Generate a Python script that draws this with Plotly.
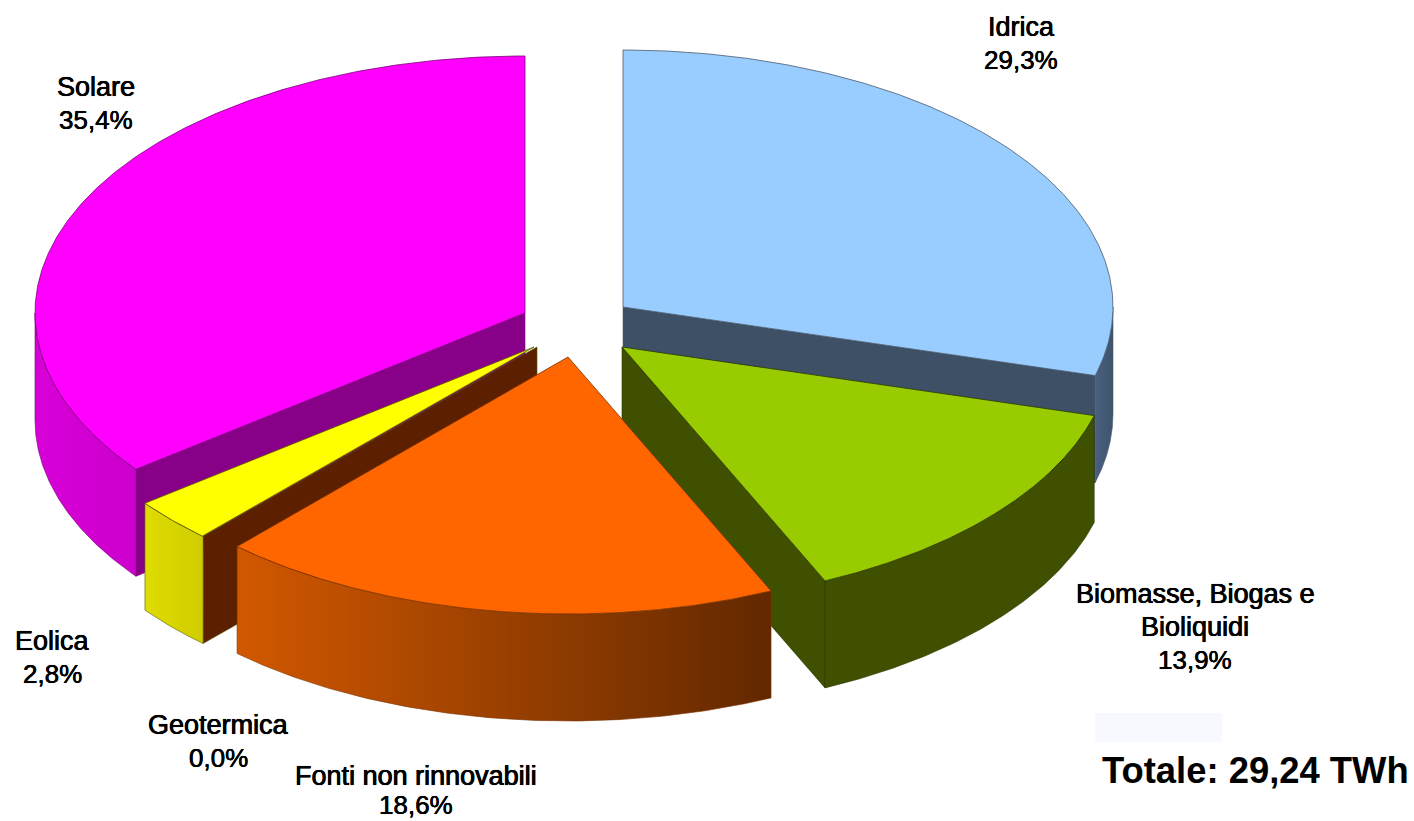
import numpy as np
import plotly.graph_objects as go

# ---- data -----------------------------------------------------------------
categories = ["Idrica", "Biomasse, Biogas e<br>Bioliquidi", "Fonti non rinnovabili",
              "Geotermica", "Eolica", "Solare"]
shares = [29.3, 13.9, 18.6, 0.0, 2.8, 35.4]
share_labels = ["29,3%", "13,9%", "18,6%", "0,0%", "2,8%", "35,4%"]
total_label = "Totale: 29,24 TWh"

# ---- geometry and styling --------------------------------------------------
RX, RY, DEPTH = 490.0, 257.0, 107.0
W, H = 1414, 821
apex = {0: (623, 307), 1: (622, 347), 2: (568, 357), 4: (534, 347), 5: (525, 313)}
wall_shift = {0: 0, 1: 0, 4: 3, 5: 0}
top_col = {0: "#99ccff", 1: "#99cc00", 2: "#ff6600", 4: "#ffff00", 5: "#ff00ff"}
edge_col = {0: "#4a5a6c", 1: "#2c3800", 2: "#7a3200", 4: "#5a5a00", 5: "#7a007a"}
side_grad = {0: ("#48607e", "#3f536c"), 1: ("#3f5000", "#3f5000"), 2: ("#d25800", "#622800"),
             4: ("#dedc00", "#d0cc00"), 5: ("#d800d8", "#cc00cc")}
wall_col = {0: "#3d5066", 1: "#3f5000", 2: None, 4: "#5c2000", 5: "#880088"}
wall_at = {0: "end", 1: "end", 4: "start", 5: "start"}
draw_order = [5, 0, 1, 4, 2]
# centre of the first text line of each label, and distance between lines
label_xy = {0: (1021, 27), 1: (1195, 594), 2: (416, 776), 3: (218, 725), 4: (52, 641), 5: (96, 87)}
line_pitch = {0: 33, 1: 33, 2: 29, 3: 33, 4: 33, 5: 33}

cum = np.concatenate([[0.0], np.cumsum(shares)]) / float(np.sum(shares)) * 2 * np.pi


def rim(i, t):
    cx, cy = apex[i]
    return cx + RX * np.sin(t), cy - RY * np.cos(t)


fig = go.Figure()


def poly(xs, ys, fill=None, line="rgba(0,0,0,0)", grad=None, width=1.0):
    kw = dict(x=xs, y=ys, mode="lines", fill="toself",
              line=dict(color=line, width=width),
              hoverinfo="skip", showlegend=False)
    if grad:
        kw["fillgradient"] = dict(type="horizontal", colorscale=[[0, grad[0]], [1, grad[1]]])
    else:
        kw["fillcolor"] = fill
    fig.add_trace(go.Scatter(**kw))


for i in draw_order:
    a0, a1 = cum[i], cum[i + 1]
    cx, cy = apex[i]
    # radial wall facing the viewer
    if i in wall_at:
        ang = a1 if wall_at[i] == "end" else a0
        ex, ey = rim(i, ang)
        wx = cx + wall_shift[i]
        poly([wx, ex, ex, wx, wx], [cy, ey, ey + DEPTH, cy + DEPTH, cy],
             fill=wall_col[i], line=edge_col[i], width=0.6)
    # curved outer wall (only the part on the lower half of the ellipse)
    lo, hi = max(a0, np.pi / 2), min(a1, 3 * np.pi / 2)
    if hi > lo:
        t = np.linspace(lo, hi, 120)
        x, y = rim(i, t)
        poly(np.r_[x, x[::-1], x[0]], np.r_[y, y[::-1] + DEPTH, y[0]],
             grad=side_grad[i], line=edge_col[i], width=0.6)
    # top face
    t = np.linspace(a0, a1, 240)
    x, y = rim(i, t)
    poly(np.r_[cx, x, cx], np.r_[cy, y, cy], fill=top_col[i], line=edge_col[i], width=0.8)

BOLDISH = "0.35px 0 0 #000, -0.35px 0 0 #000, 0 0 1px rgba(0,0,0,0.5)"
SOFT = "0.15px 0 0 #000, -0.15px 0 0 #000, 0 0 1px rgba(0,0,0,0.4)"


def text_line(x, y, s, size, shadow):
    return dict(x=x, y=y, xref="x", yref="y", text=s, showarrow=False,
                xanchor="center", yanchor="middle",
                font=dict(family="Liberation Sans", size=size, color="#000000", shadow=shadow))


annots = []
for i, (c, s) in enumerate(zip(categories, share_labels)):
    lx, ly = label_xy[i]
    parts = c.split("<br>")
    for k, p in enumerate(parts):
        annots.append(text_line(lx, ly + k * line_pitch[i], p, 27, BOLDISH))
    annots.append(text_line(lx, ly + len(parts) * line_pitch[i], s, 26, SOFT))
annots.append(dict(x=1255, y=770, xref="x", yref="y", text=f"<b>{total_label}</b>", showarrow=False,
                   xanchor="center", yanchor="middle",
                   font=dict(family="Liberation Sans", size=36.4, color="#000000")))

fig.update_layout(
    width=W, height=H, margin=dict(l=0, r=0, t=0, b=0),
    paper_bgcolor="#ffffff", plot_bgcolor="#ffffff", showlegend=False,
    xaxis=dict(range=[0, W], visible=False, fixedrange=True),
    yaxis=dict(range=[H, 0], visible=False, fixedrange=True),
    annotations=annots,
    shapes=[dict(type="rect", xref="x", yref="y", x0=1095, x1=1222, y0=713, y1=742,
                 fillcolor="#f7f9ff", line=dict(width=0), layer="below")],
)
fig.write_html("out.html", config={"displayModeBar": False},
               post_script="document.body.style.margin='0';document.documentElement.style.overflow='hidden';")
